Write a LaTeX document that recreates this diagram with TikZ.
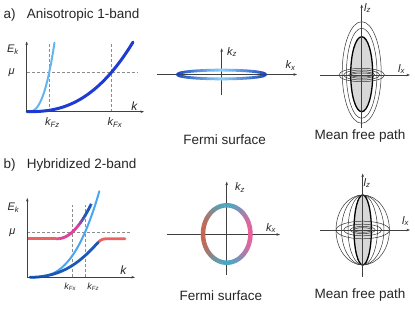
\documentclass[tikz,border=0pt]{standalone}
\usepackage{fontspec}
\setmainfont{Liberation Sans}
\usetikzlibrary{arrows.meta}
\definecolor{da}{HTML}{1E3CD2}
\definecolor{la}{HTML}{64B4F0}
\definecolor{db}{HTML}{1A5AB6}
\definecolor{lb}{HTML}{48A6F0}
\definecolor{rb}{HTML}{EC6262}
\definecolor{mb}{HTML}{E0409A}
\definecolor{fad}{HTML}{1A44B8}
\definecolor{fal}{HTML}{88CCF8}
\definecolor{fbl}{HTML}{C8644E}
\definecolor{fbr}{HTML}{E8609A}
\definecolor{fbt}{HTML}{48A8C4}
\definecolor{gfill}{HTML}{D8D8D8}
\begin{document}
\begin{tikzpicture}[x=1pt,y=-1pt,
  axis/.style={line width=0.6pt, draw=black!75, -{Stealth[length=3.5pt,width=2.6pt]}},
  guide/.style={dash pattern=on 3pt off 2pt, line width=0.6pt, draw=black!45},
  title/.style={anchor=base west, font=\fontsize{13.5}{15}\selectfont, text=black!85, inner sep=0pt},
  capt/.style={font=\fontsize{13.5}{15}\selectfont, text=black!85, inner sep=0pt},
  lab/.style={font=\fontsize{11}{12}\selectfont\itshape, inner sep=0pt, text=black!85},
  slab/.style={font=\fontsize{9}{10}\selectfont\itshape, inner sep=0pt, text=black!85},
  thin/.style={line width=0.5pt, draw=black!80},
  thick/.style={line width=1.3pt, draw=black}]
\useasboundingbox (0,0) rectangle (415,312);

% ---------------- titles
\node[title] (ta) at (3.3,18.5) {a)};
\node[title] (tat) at (26.7,18.5) {Anisotropic 1-band};
\node[title] (tb) at (3.3,168.5) {b)};
\node[title] (tbt) at (26.7,168.5) {Hybridized 2-band};

% ---------------- panel a: dispersion
\coordinate (aO) at (26.7,111.7);
\coordinate (aY) at (26.7,41.5);
\coordinate (aX) at (144,111.7);
\coordinate (aM0) at (26.7,72);
\coordinate (aM1) at (138,72);
\coordinate (aV1t) at (49.3,43);
\coordinate (aV1b) at (49.3,111.7);
\coordinate (aV2t) at (111.7,43);
\coordinate (aV2b) at (111.7,111.7);
\draw[guide] (aM0) -- (aM1);
\draw[guide] (aV1b) -- (aV1t);
\draw[guide] (aV2b) -- (aV2t);
\draw[line width=2pt, la, line cap=round] plot[domain=28.4:54.5, samples=40] (\x,{111.7-39.7*((\x-28.3)/21)^2.5});
\draw[line width=3pt, da, line cap=round] plot[domain=27.1:133, samples=70] (\x,{111.7-39.7*((\x-27)/84.7)^2.5});
\draw[axis] (aO) -- (aY);
\draw[axis] (aO) -- (aX);
\node[lab] (aE) at (13,50) {E\textsubscript{k}};
\node[lab] (amu) at (11.7,72.5) {μ};
\node[lab, font=\fontsize{12}{13}\selectfont\itshape] (ak) at (134.3,106) {k};
\node[lab] (akfz) at (52.5,122.5) {k\textsubscript{Fz}};
\node[lab] (akfx) at (115,122.5) {k\textsubscript{Fx}};

% ---------------- panel a: Fermi surface
\coordinate (faL) at (156.7,74.5);
\coordinate (faR) at (297,74.5);
\coordinate (faB) at (221.7,95);
\coordinate (faT) at (221.7,48.3);
\draw[axis] (faL) -- (faR);
\draw[axis] (faB) -- (faT);
\foreach \t in {0,5,...,355}{
  \pgfmathsetmacro\w{100*abs(cos(\t+2.5))^1.2}
  \draw[line width=2.8pt, fad!\w!fal] plot[domain=\t:\t+5.6, samples=4] ({221.5+44*cos(\x)},{74.5-4.4*sin(\x)});
}
\node[lab] (fakz) at (232,52) {k\textsubscript{z}};
\node[lab] (fakx) at (290.5,65.7) {k\textsubscript{x}};
\node[capt] (fat) at (224.7,139.5) {Fermi surface};

% ---------------- panel a: mean free path
\coordinate (ma) at (361.7,75);
\coordinate (maL) at (320,75);
\coordinate (maR) at (410,75);
\coordinate (maB) at (361.7,128);
\coordinate (maT) at (361.7,4.5);
\draw[thick, fill=gfill] (361.7,74.2) ellipse [x radius=11pt, y radius=37.5pt];
\draw[thin] (361.7,73.3) ellipse [x radius=15.3pt, y radius=45pt];
\draw[thin] (361.7,72.5) ellipse [x radius=19.5pt, y radius=50.8pt];
\draw[thin] (ma) ellipse [x radius=22.8pt, y radius=6.7pt];
\draw[thin] (ma) ellipse [x radius=18pt, y radius=5pt];
\draw[thin] (ma) ellipse [x radius=13pt, y radius=3.3pt];
\draw[thin] (ma) ellipse [x radius=11pt, y radius=2pt];
\draw[axis] (maL) -- (maR);
\draw[axis] (maB) -- (maT);
\node[lab] (malz) at (367.5,8) {l\textsubscript{z}};
\node[lab] (malx) at (401.5,69) {l\textsubscript{x}};
\node[capt] (mat) at (360,136.5) {Mean free path};

% ---------------- panel b: dispersion
\coordinate (bO) at (27.3,277.3);
\coordinate (bY) at (27.3,198);
\coordinate (bX) at (135,277.3);
\coordinate (bM0) at (27.3,232.3);
\coordinate (bM1) at (132,232.3);
\coordinate (bV1t) at (72.7,205);
\coordinate (bV1b) at (72.7,277.3);
\coordinate (bV2t) at (85,205);
\coordinate (bV2b) at (85,277.3);
\draw[guide] (bM0) -- (bM1);
\draw[guide] (bV1b) -- (bV1t);
\draw[guide] (bV2b) -- (bV2t);
\draw[line width=2pt, lb, line cap=round] plot[domain=30.2:99.3, samples=50] (\x,{277.3-45*((\x-30)/55)^2.8});
% lower hybridized band
\draw[line width=2.8pt, rb, line cap=round] (98,242.5) .. controls (101.5,238.7) and (104,238.7) .. (110,238.7) -- (125,238.7);
\draw[line width=2.8pt, db, line cap=round] (30,277.3) .. controls (64,277.3) and (82,260) .. (98,242.5);
% upper hybridized band
\foreach \a in {0,...,40}{
  \pgfmathsetmacro\xa{27.3+1.6*\a}
  \pgfmathsetmacro\xb{min(\xa+1.9,90.7)}
  \ifdim\xa pt<60pt
    \pgfmathsetmacro\w{100*min(max((60-\xa)/6,0),1)}
    \def\col{rb!\w!mb}
  \else
    \pgfmathsetmacro\w{100*min(max((84-\xa)/7,0),1)}
    \def\col{mb!\w!db}
  \fi
  \draw[line width=2.8pt, \col] plot[domain=\xa:\xb, samples=3] (\x,{238.7-0.0307*(max(\x-57.6,0))^2});
}
\draw[axis] (bO) -- (bY);
\draw[axis] (bO) -- (bX);
\node[lab] (bE) at (13.5,208) {E\textsubscript{k}};
\node[lab] (bmu) at (12.5,232.5) {μ};
\node[lab, font=\fontsize{12}{13}\selectfont\itshape] (bk) at (123.3,270) {k};
\node[slab] (bkfx) at (70.3,286.5) {k\textsubscript{Fx}};
\node[slab] (bkfz) at (93.3,286.5) {k\textsubscript{Fz}};

% ---------------- panel b: Fermi surface
\coordinate (fbL) at (166.7,234.5);
\coordinate (fbR) at (280,234.5);
\coordinate (fbB) at (226.7,275);
\coordinate (fbT) at (226.7,181.7);
\draw[axis] (fbL) -- (fbR);
\draw[axis] (fbB) -- (fbT);
\foreach \t in {0,5,...,355}{
  \pgfmathsetmacro\c{cos(\t+2.5)}
  \pgfmathsetmacro\w{100*abs(\c)^1.6}
  \ifdim\c pt>0pt \def\col{fbr!\w!fbt}\else\def\col{fbl!\w!fbt}\fi
  \draw[line width=4.5pt, \col] plot[domain=\t:\t+5.6, samples=4] ({226.7+23.7*cos(\x)},{234-28.7*sin(\x)});
}
\node[lab] (fbkz) at (240,187.5) {k\textsubscript{z}};
\node[lab] (fbkx) at (271,228) {k\textsubscript{x}};
\node[capt] (fbt) at (220.8,295.5) {Fermi surface};

% ---------------- panel b: mean free path
\coordinate (mb) at (362.7,230);
\coordinate (mbL) at (320,230);
\coordinate (mbR) at (410,230);
\coordinate (mbB) at (362.7,277);
\coordinate (mbT) at (362.7,173.5);
\draw[thick, fill=gfill] (mb) ellipse [x radius=8.7pt, y radius=35pt];
\draw[thin] (mb) ellipse [x radius=14.7pt, y radius=35pt];
\draw[thin] (mb) ellipse [x radius=21.2pt, y radius=35pt];
\draw[thin] (mb) ellipse [x radius=26.7pt, y radius=35pt];
\draw[thin] (mb) ellipse [x radius=26.7pt, y radius=8.8pt];
\draw[thin] (mb) ellipse [x radius=19pt, y radius=5.8pt];
\draw[thin] (mb) ellipse [x radius=12.5pt, y radius=3.7pt];
\draw[thin] (mb) ellipse [x radius=9pt, y radius=2.3pt];
\draw[axis] (mbL) -- (mbR);
\draw[axis] (mbB) -- (mbT);
\node[lab] (mblz) at (367,183) {l\textsubscript{z}};
\node[lab] (mblx) at (405.5,221) {l\textsubscript{x}};
\node[capt] (mbt) at (360,295.5) {Mean free path};
\end{tikzpicture}
\end{document}
